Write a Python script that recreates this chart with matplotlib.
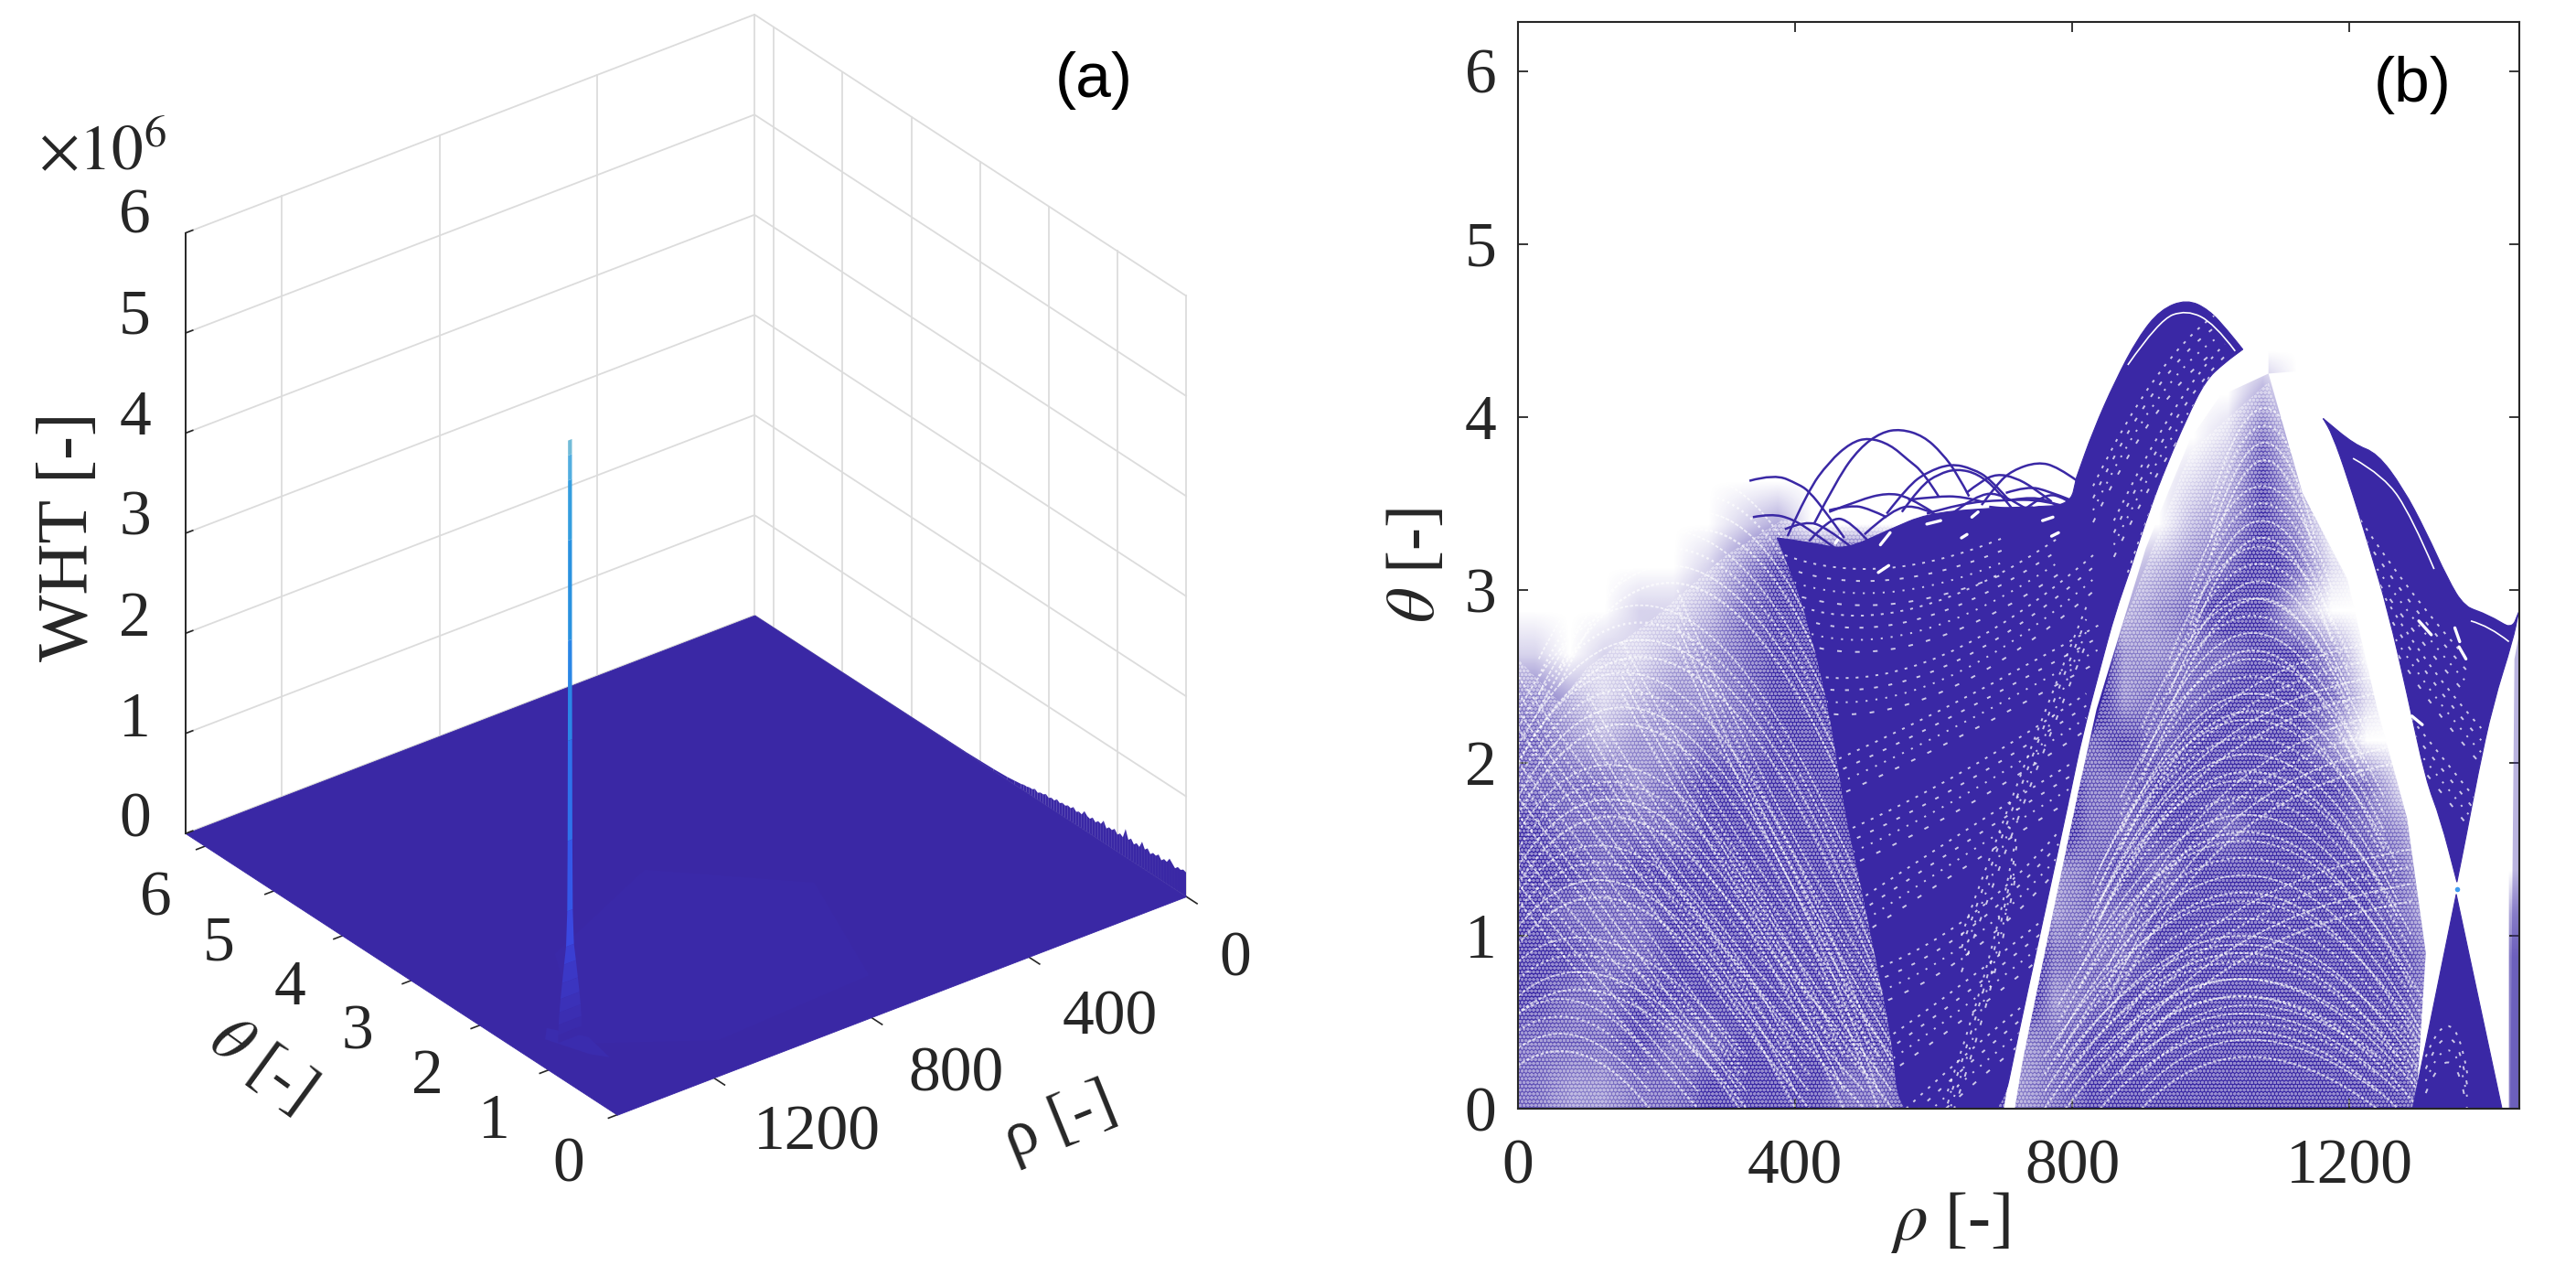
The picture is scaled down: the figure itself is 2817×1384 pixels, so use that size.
import numpy as np
import matplotlib
matplotlib.use("Agg")
import matplotlib.pyplot as plt
from matplotlib.colors import LinearSegmentedColormap, to_rgba
from matplotlib.patches import PathPatch, Polygon
from matplotlib.path import Path
from mpl_toolkits.mplot3d import proj3d
from mpl_toolkits.mplot3d.art3d import Poly3DCollection

W, H = 2817, 1384
INDIGO = "#3A28A5"
INK = "#262626"
GRID = "#dcdcdc"

plt.rcParams["font.family"] = "Liberation Serif"
plt.rcParams["mathtext.fontset"] = "stix"
plt.rcParams["hatch.linewidth"] = 1.1

RHO_MAX = 1445
THETA_MAX = 6.283

# panel (a)
RHO_TICKS = [0, 400, 800, 1200]
THETA_TICKS = [0, 1, 2, 3, 4, 5, 6]
WHT_TICKS = [0, 1, 2, 3, 4, 5, 6]

SPIKE_RHO = 1338
SPIKE_THETA = 1.3
SPIKE_Z = [0.02, 0.1, 0.2, 0.32, 0.45, 0.6, 0.78, 0.95, 1.3, 2.0, 3.0, 4.0, 5.0, 5.6, 5.85, 6.0]
SPIKE_HALF = [30, 30, 29, 27, 24, 20, 15, 10, 7, 6, 5.5, 5, 5, 5, 5, 5]
SPIKE_COLORS = ["#3A29A8", "#3A2BAC", "#3B2EB2", "#3B31B8", "#3B35C0", "#3B38C6", "#3A3ED2", "#3A48E0",
                "#3458E8", "#2E72EA", "#2A86E6", "#2A92E0", "#349EDF", "#52AEE0", "#72BCD8"]
FOOT_RHO = [1375, 1345, 1300, 1316, 1340]
FOOT_THETA = [1.45, 1.6, 1.25, 0.85, 1.0]
GLOW_RHO = [1330, 1150, 800, 560, 700, 1100]
GLOW_THETA = [1.2, 2.6, 3.3, 2.2, 0.6, 0.5]

EDGE_THETA = [0.0, 0.04, 0.08, 0.12, 0.16, 0.2, 0.24, 0.28, 0.32, 0.36, 0.4, 0.44, 0.48, 0.52, 0.56, 0.6, 0.64,
              0.68, 0.72, 0.76, 0.8, 0.84, 0.88, 0.92, 0.96, 1.0, 1.04, 1.08, 1.12, 1.16, 1.2, 1.24, 1.28, 1.32,
              1.36, 1.4, 1.44, 1.48, 1.52, 1.56, 1.6, 1.64, 1.68, 1.72, 1.76, 1.8, 1.84, 1.88, 1.92, 1.96, 2.0,
              2.04, 2.08, 2.12, 2.16, 2.2, 2.24, 2.28, 2.32, 2.36, 2.4, 2.5, 2.6, 2.8, 3.2, 6.283]
EDGE_WHT = [0.24, 0.25, 0.23, 0.24, 0.21, 0.24, 0.27, 0.22, 0.23, 0.2, 0.24, 0.21, 0.22, 0.19, 0.23, 0.2, 0.26,
            0.19, 0.21, 0.18, 0.22, 0.19, 0.28, 0.18, 0.2, 0.17, 0.21, 0.18, 0.19, 0.16, 0.22, 0.17, 0.18, 0.15,
            0.18, 0.15, 0.16, 0.19, 0.14, 0.15, 0.13, 0.16, 0.13, 0.14, 0.12, 0.13, 0.11, 0.13, 0.1, 0.11, 0.09,
            0.11, 0.09, 0.09, 0.07, 0.09, 0.07, 0.07, 0.06, 0.06, 0.05, 0.04, 0.03, 0.02, 0.01, 0.0]

# panel (b): point density read by eye, rows from theta 4.625 down to 0.125, columns rho 25 to 1425
DENSITY = [
    "00000000000000000000000000000",
    "00000000000000000000000000000",
    "00000000000000000000020000000",
    "00000000000000000000141000000",
    "00000000000000000001252000000",
    "00000012000000000002353000000",
    "00000135677777777123464100000",
    "00011245677777772234652000000",
    "10112345677777777334455300000",
    "32123345677777777344565410000",
    "43233445677777734545665300000",
    "44434555567777774455565541000",
    "54444555567777774455456543000",
    "55455555567777734545556554100",
    "54445565666777734455556654202",
    "55445556666777744455555655303",
    "54455556655677734555556665303",
    "44454456655677345555666665303",
    "43344565544567345555656655303",
]

DARK_RHO = [374, 430, 471, 537, 590, 669, 740, 797, 806, 806, 830, 862, 895, 927, 965, 997, 1024, 1046, 1046,
            1019, 992, 965, 938, 911, 884, 862, 841, 814, 798, 776, 749, 722, 695,
            552, 540, 520, 495, 471, 450, 420, 395, 374]
DARK_THETA = [3.30, 3.27, 3.23, 3.35, 3.44, 3.47, 3.48, 3.49, 3.65, 3.65, 3.92, 4.21, 4.46, 4.62, 4.68, 4.62, 4.50, 4.39, 4.39,
              4.31, 4.21, 3.99, 3.74, 3.46, 3.12, 2.87, 2.56, 2.15, 1.84, 1.43, 0.93, 0.43, -0.1,
              -0.1, 0.4, 0.8, 1.3, 1.73, 2.3, 2.8, 3.1, 3.30]

UPPER_RHO = [1162, 1162, 1207, 1240, 1277, 1310, 1342, 1366, 1401, 1434, 1444, 1444, 1436, 1407, 1385, 1369, 1355, 1355,
             1331, 1310, 1283, 1256, 1229, 1197, 1175, 1162, 1162]
UPPER_THETA = [3.99, 3.99, 3.84, 3.79, 3.59, 3.34, 3.06, 2.90, 2.85, 2.77, 2.87, 2.87, 2.71, 2.34, 1.93, 1.59, 1.31, 1.31,
               1.68, 1.90, 2.40, 2.87, 3.24, 3.65, 3.90, 3.99, 3.99]

LOWER_RHO = [1354, 1291, 1420]
LOWER_THETA = [1.24, 0.0, 0.0]

GAP_LEFT_RHO = [701, 717, 728, 776, 809, 835, 873, 906, 938, 970, 1013, 1083, 1083, 900]
GAP_LEFT_THETA = [0.0, 0.0, 0.27, 1.21, 1.84, 2.31, 2.81, 3.24, 3.56, 3.87, 4.12, 4.25, 4.7, 4.7]

GAP_RIGHT_RHO = [1083, 1132, 1197, 1240, 1283, 1310, 1296, 1430, 1430, 1240]
GAP_RIGHT_THETA = [4.25, 3.56, 3.06, 2.31, 1.68, 0.9, 0.0, 0.0, 2.6, 4.3]

SLIVER_RHO = [1432, 1445, 1445, 1438]
SLIVER_THETA = [0.0, 0.0, 2.75, 2.6]

# outline of the scattered lobes, for the dot screen
SCATTER_RHO = [0, 0, 60, 100, 200, 300, 380, 600, 730, 776, 873, 970, 1083, 1132, 1197, 1240, 1283, 1310, 1300]
SCATTER_THETA = [0, 2.6, 2.35, 2.55, 2.85, 3.2, 3.4, 3.4, 0.6, 1.4, 2.8, 3.8, 4.2, 3.56, 3.06, 2.31, 1.68, 0.9, 0]

CROSS_RHO = 1355
CROSS_THETA = 1.27

# thin curves standing clear of the dense part
ARCS = [
    ([334, 370, 405, 420, 444, 471], [3.63, 3.67, 3.61, 3.57, 3.45, 3.30]),
    ([389, 418, 449, 480, 506, 537, 563, 585, 607], [3.31, 3.57, 3.74, 3.85, 3.88, 3.84, 3.75, 3.68, 3.54]),
    ([427, 462, 493, 524, 552, 585, 612, 634, 651], [3.38, 3.65, 3.82, 3.91, 3.93, 3.89, 3.79, 3.67, 3.54]),
    ([532, 563, 590, 625, 656, 682, 708], [3.44, 3.60, 3.68, 3.73, 3.70, 3.64, 3.52]),
    ([554, 581, 607, 634, 664, 691, 713], [3.45, 3.60, 3.67, 3.70, 3.67, 3.58, 3.47]),
    ([669, 691, 713, 750, 779, 807], [3.49, 3.61, 3.69, 3.74, 3.71, 3.63]),
    ([647, 669, 691, 717, 744, 770], [3.56, 3.63, 3.67, 3.65, 3.59, 3.51]),
    ([449, 493, 532, 563, 598], [3.45, 3.52, 3.56, 3.54, 3.45]),
    ([339, 365, 396, 427, 458], [3.42, 3.44, 3.41, 3.33, 3.24]),
    ([449, 480, 506, 532], [3.46, 3.49, 3.47, 3.42]),
    ([563, 603, 642, 669], [3.52, 3.54, 3.54, 3.51]),
    ([704, 735, 766, 797], [3.56, 3.60, 3.57, 3.52]),
    ([713, 744, 775, 794], [3.52, 3.54, 3.50, 3.45]),
    ([420, 450, 480, 510], [3.28, 3.42, 3.40, 3.26]),
    ([590, 640, 700, 760, 800], [3.44, 3.50, 3.52, 3.52, 3.47]),
    ([385, 415, 445, 480], [3.35, 3.40, 3.36, 3.25]),
    ([500, 540, 580, 620], [3.32, 3.47, 3.49, 3.40]),
    ([620, 660, 700, 740], [3.42, 3.55, 3.56, 3.45]),
    ([730, 760, 790, 805], [3.46, 3.56, 3.53, 3.48]),
    ([680, 720, 770, 803], [3.48, 3.46, 3.48, 3.40]),
    ([1366, 1400, 1434], [2.90, 2.86, 2.77]),
]

# white curves inside the solid bands
BAND_LINES = [
    ([880, 925, 965, 1005, 1035], [4.30, 4.56, 4.62, 4.54, 4.38]),
    ([1205, 1250, 1290, 1322], [3.76, 3.66, 3.42, 3.12]),
    ([1375, 1402, 1430], [2.82, 2.79, 2.70]),
]

# short white holes, start and end of each
HOLES = [
    ((523, 3.26), (537, 3.33)), ((458, 3.27), (465, 3.31)), ((655, 3.42), (664, 3.45)), ((757, 3.40), (772, 3.42)),
    ((744, 3.49), (762, 3.50)), ((770, 3.31), (780, 3.33)), ((640, 3.30), (648, 3.32)), ((590, 3.38), (610, 3.40)),
    ((520, 3.10), (535, 3.14)), ((1352, 2.78), (1359, 2.70)), ((1358, 2.67), (1368, 2.60)), ((1290, 2.27), (1305, 2.22)),
    ((1300, 2.82), (1318, 2.74)),
]

# streak curves as start, control, end
LOBE_STREAKS = [
    ([0, 130, 330], [0.55, 1.0, 0.0]), ([0, 170, 400], [0.95, 1.8, 0.0]), ([0, 190, 470], [1.3, 2.5, 0.0]),
    ([0, 220, 520], [1.7, 3.3, 0.0]), ([0, 250, 560], [2.0, 3.8, 0.3]), ([30, 280, 560], [2.3, 4.3, 0.9]),
    ([60, 310, 520], [2.45, 4.6, 1.6]), ([0, 90, 190], [0.25, 0.5, 0.0]), ([0, 60, 260], [1.2, 0.9, 0.0]),
    ([0, 100, 320], [1.7, 1.2, 0.0]), ([0, 140, 420], [2.2, 1.4, 0.0]), ([100, 220, 500], [2.1, 1.2, 0.0]),
    ([150, 280, 540], [2.4, 1.4, 0.0]), ([230, 340, 550], [2.7, 1.6, 0.2]),
]
MIDDLE_STREAKS = [
    ([1000, 1080, 1150], [3.2, 4.3, 3.2]), ([970, 1075, 1175], [2.7, 3.9, 2.7]), ([940, 1070, 1200], [2.3, 3.6, 2.3]),
    ([900, 1060, 1220], [1.9, 3.4, 1.9]), ([870, 1060, 1250], [1.5, 3.1, 1.5]), ([840, 1055, 1270], [1.1, 2.8, 1.1]),
    ([810, 1050, 1290], [0.7, 2.5, 0.7]), ([780, 1050, 1310], [0.3, 2.2, 0.3]), ([760, 1050, 1320], [0.0, 1.8, 0.0]),
    ([790, 1040, 1300], [0.0, 1.3, 0.0]), ([840, 1040, 1270], [0.0, 0.9, 0.0]), ([900, 1040, 1240], [0.0, 0.6, 0.0]),
    ([870, 1000, 1290], [0.2, 1.0, 1.2]), ([850, 980, 1270], [0.5, 1.8, 2.0]), ([830, 950, 1240], [1.0, 2.2, 2.4]),
]
DARK_STREAKS = [
    ([385, 520, 700], [3.2, 3.0, 3.3]), ([410, 560, 780], [2.9, 2.7, 3.3]), ([430, 600, 830], [2.5, 2.4, 3.2]),
    ([450, 620, 840], [2.0, 2.3, 2.8]), ([470, 640, 820], [1.6, 1.9, 2.4]), ([490, 640, 800], [1.2, 1.6, 2.0]),
    ([510, 650, 780], [0.8, 1.0, 1.6]), ([530, 640, 760], [0.4, 0.7, 1.1]), ([560, 640, 730], [0.0, 0.3, 0.6]),
    ([620, 690, 720], [0.1, 0.9, 1.6]), ([640, 720, 820], [1.0, 1.9, 2.9]), ([830, 920, 1010], [3.6, 4.35, 4.6]),
    ([860, 950, 1020], [3.4, 4.15, 4.42]), ([880, 940, 1000], [3.1, 3.8, 4.25]), ([1200, 1280, 1370], [3.5, 3.0, 2.6]),
    ([1230, 1300, 1390], [3.1, 2.6, 2.2]), ([1280, 1340, 1380], [2.3, 2.0, 1.8]), ([1310, 1350, 1370], [0.3, 0.7, 0.2]),
]

# each streak is drawn as a small bundle so the area reads as grain
SHADE_LAYERS = [(0.0, 1.6, (1.5, 1.0)), (0.1, 1.3, (2.4, 0.9)), (0.2, 1.7, (1.1, 1.5)), (0.3, 1.3, (1.9, 1.2))]
FLECK_LAYERS = [(0.0, (1.6, 4.0)), (0.07, (2.2, 6.0)), (0.14, (1.1, 4.5)), (0.21, (2.6, 7.5))]


def put(px, py, s, **kw):
    kw.setdefault("ha", "center")
    kw.setdefault("va", "center")
    return fig.text(px / W, 1 - py / H, s, **kw)


def smooth_path(xs, ys):
    pts = list(zip(xs, ys))
    verts = [pts[0]]
    codes = [Path.MOVETO]
    for i in range(1, len(pts) - 1):
        if i < len(pts) - 2:
            end = ((pts[i][0] + pts[i + 1][0]) / 2, (pts[i][1] + pts[i + 1][1]) / 2)
        else:
            end = pts[-1]
        verts += [pts[i], end]
        codes += [Path.CURVE3, Path.CURVE3]
    return Path(verts, codes)


def to_px(ax, x, y, z):
    a, b, _ = proj3d.proj_transform(x, y, z, ax.get_proj())
    return ax.transData.transform((a, b))


def draw_panel_a():
    ax = fig.add_axes([0.1, 0.1, 1300 / W, 1300 / H], projection="3d", proj_type="ortho")
    ax.computed_zorder = False
    ax.set_axis_off()
    ax.patch.set_alpha(0)
    ax.view_init(elev=30, azim=142.5)
    ax.set_box_aspect((776, 785, 759))
    ax.set_xlim(0, THETA_MAX, view_margin=0)
    ax.set_ylim(0, RHO_MAX, view_margin=0)
    ax.set_zlim(0, 6, view_margin=0)

    # fit the box to where it sits in the reference
    span = to_px(ax, 0, 0, 0)[0] - to_px(ax, THETA_MAX, RHO_MAX, 0)[0]
    size = 1300 * 1094 / span
    ax.set_position([0.1, 0.1, size / W, size / H])
    now = to_px(ax, 0, 0, 0)
    ax.set_position([0.1 + (1297 - now[0]) / W, 0.1 + (H - 980 - now[1]) / H, size / W, size / H])

    for z in WHT_TICKS:
        ax.plot([THETA_MAX, THETA_MAX, 0], [RHO_MAX, 0, 0], [z, z, z], color=GRID, lw=1.3, zorder=1, clip_on=False)
    for r in RHO_TICKS:
        ax.plot([THETA_MAX, THETA_MAX], [r, r], [0, 6], color=GRID, lw=1.3, zorder=1, clip_on=False)
    for t in THETA_TICKS:
        ax.plot([t, t], [0, 0], [0, 6], color=GRID, lw=1.3, zorder=1, clip_on=False)

    ax.plot([THETA_MAX, THETA_MAX], [RHO_MAX, RHO_MAX], [0, 6], color=INK, lw=1.4, zorder=5, clip_on=False)
    for z in WHT_TICKS:
        ax.plot([THETA_MAX, THETA_MAX], [RHO_MAX, RHO_MAX - 18], [z, z], color=INK, lw=1.2, zorder=5, clip_on=False)
    for t in THETA_TICKS:
        ax.plot([t, t], [RHO_MAX, RHO_MAX + 22], [0, 0], color=INK, lw=1.2, zorder=1, clip_on=False)
    for r in RHO_TICKS:
        ax.plot([0, -0.16], [r, r], [0, 0], color=INK, lw=1.2, zorder=1, clip_on=False)

    # floor, then the rough rim along rho = 0
    tt, rr = np.meshgrid([0, THETA_MAX], [0, RHO_MAX])
    ax.plot_surface(tt, rr, np.zeros((2, 2)), color=INDIGO, shade=False, rstride=1, cstride=1,
                    linewidth=0.6, edgecolor=INDIGO, zorder=2, clip_on=False)
    rim_t = np.vstack([EDGE_THETA, EDGE_THETA])
    rim_r = np.zeros(rim_t.shape)
    rim_z = np.vstack([np.zeros(len(EDGE_WHT)), EDGE_WHT])
    ax.plot_surface(rim_t, rim_r, rim_z, color=INDIGO, shade=False, rstride=1, cstride=1,
                    linewidth=0, zorder=2, clip_on=False)

    for xs, ys, col in [(GLOW_RHO, GLOW_THETA, "#3A29A8"), (FOOT_RHO, FOOT_THETA, "#3A2CAE")]:
        verts = [list(zip(ys, xs, np.zeros(len(xs))))]
        poly = Poly3DCollection(verts, facecolors=col, edgecolors="none", zorder=2.5)
        poly.set_clip_on(False)
        ax.add_collection3d(poly)

    half = np.array(SPIKE_HALF)
    spike_r = np.vstack([SPIKE_RHO - half, SPIKE_RHO + half])
    spike_t = np.full(spike_r.shape, SPIKE_THETA)
    spike_z = np.vstack([SPIKE_Z, SPIKE_Z])
    cols = np.array([[to_rgba(c) for c in SPIKE_COLORS]])
    ax.plot_surface(spike_t, spike_r, spike_z, facecolors=cols, shade=False, rstride=1, cstride=1,
                    linewidth=0, antialiased=True, zorder=3, clip_on=False)

    for t, x, y in zip(THETA_TICKS, [622, 540, 467, 391, 317, 239, 170], [1275, 1227, 1178, 1130, 1081, 1033, 984]):
        put(x, y, str(t), fontsize=50, color=INK)
    for r, x, y in zip(RHO_TICKS, [1351, 1214, 1045, 893], [1050, 1114, 1176, 1240]):
        put(x, y, str(r), fontsize=50, color=INK)
    for z in WHT_TICKS:
        put(165, 898 - 110 * z, str(z), fontsize=50, color=INK, ha="right")
    put(76, 587, "WHT [-]", fontsize=56, color=INK, rotation=90)
    put(112, 168, r"$\times 10^{6}$", fontsize=50, color=INK)
    put(286, 1165, r"$\theta$ [-]", fontsize=52, color=INK, rotation=-36)
    put(1159, 1227, "ρ [-]", fontsize=52, color=INK, rotation=22)
    put(1196, 88, "(a)", fontsize=50, color="black", family="Liberation Sans")


def draw_panel_b():
    ax = fig.add_axes([1660 / W, (H - 1212) / H, 1095 / W, 1188 / H])
    cmap = LinearSegmentedColormap.from_list("dots", ["#ffffff", INDIGO])
    grid = np.array([[int(c) for c in row] for row in DENSITY])
    ax.imshow(grid, extent=(0, 1450, 0, 4.75), origin="upper", cmap=cmap, vmin=0, vmax=5.0,
              interpolation="bilinear", aspect="auto", zorder=1)

    # white streaks and a white dot screen give the area its grain
    for xs, ys in LOBE_STREAKS + MIDDLE_STREAKS:
        for shift, lw, dash in SHADE_LAYERS:
            ax.add_patch(PathPatch(smooth_path(xs, [y + shift for y in ys]), fc="none", ec="white", lw=lw,
                                   alpha=0.7, ls=(0, dash), zorder=2))
    ax.add_patch(Polygon(np.c_[SCATTER_RHO, SCATTER_THETA], fc="none", ec="white", lw=0, alpha=0.45,
                         hatch="oooo", zorder=2.5))

    ax.add_patch(Polygon(np.c_[GAP_LEFT_RHO, GAP_LEFT_THETA], fc="white", ec="none", zorder=3))
    ax.add_patch(Polygon(np.c_[GAP_RIGHT_RHO, GAP_RIGHT_THETA], fc="white", ec="none", zorder=3))
    ax.add_patch(Polygon(np.c_[SLIVER_RHO, SLIVER_THETA], fc=INDIGO, ec="none", alpha=0.35, zorder=3))

    regions = [
        ax.add_patch(PathPatch(smooth_path(DARK_RHO, DARK_THETA), fc=INDIGO, ec=INDIGO, lw=0.8, zorder=4)),
        ax.add_patch(PathPatch(smooth_path(UPPER_RHO, UPPER_THETA), fc=INDIGO, ec=INDIGO, lw=0.8, zorder=4)),
        ax.add_patch(Polygon(np.c_[LOWER_RHO, LOWER_THETA], fc=INDIGO, ec=INDIGO, lw=0.8, zorder=4)),
    ]

    for xs, ys in DARK_STREAKS:
        for shift, dash in FLECK_LAYERS:
            for region in regions:
                p = ax.add_patch(PathPatch(smooth_path(xs, [y - shift for y in ys]), fc="none", ec="white", lw=1.4,
                                           alpha=0.75, ls=(0, dash), zorder=5))
                p.set_clip_path(region)
    for xs, ys in BAND_LINES:
        ax.add_patch(PathPatch(smooth_path(xs, ys), fc="none", ec="white", lw=1.2, zorder=5))
    for (x0, y0), (x1, y1) in HOLES:
        ax.plot([x0, x1], [y0, y1], color="white", lw=2.4, solid_capstyle="round", zorder=5)

    for xs, ys in ARCS:
        ax.add_patch(PathPatch(smooth_path(xs, ys), fc="none", ec=INDIGO, lw=1.8, zorder=6))

    ax.scatter([CROSS_RHO], [CROSS_THETA], s=16, color="#3f9cf0", linewidths=0, zorder=7)

    ax.set_xlim(0, RHO_MAX)
    ax.set_ylim(0, THETA_MAX)
    ax.set_xticks([0, 400, 800, 1200])
    ax.set_yticks([0, 1, 2, 3, 4, 5, 6])
    ax.tick_params(direction="in", length=8, width=1.3, color=INK, labelcolor=INK,
                   labelsize=50, top=True, right=True)
    ax.tick_params(axis="x", pad=24)
    ax.tick_params(axis="y", pad=17)
    for s in ax.spines.values():
        s.set_linewidth(1.5)
        s.set_color(INK)
        s.set_zorder(8)

    put(2133, 1337, r"$\rho$ [-]", fontsize=54, color=INK)
    put(1550, 618, r"$\theta$ [-]", fontsize=54, color=INK, rotation=90)
    put(2638, 93, "(b)", fontsize=50, color="black", family="Liberation Sans")


fig = plt.figure(figsize=(W / 100, H / 100), dpi=100, facecolor="white")
draw_panel_a()
draw_panel_b()
fig.savefig("out.png", dpi=100)
